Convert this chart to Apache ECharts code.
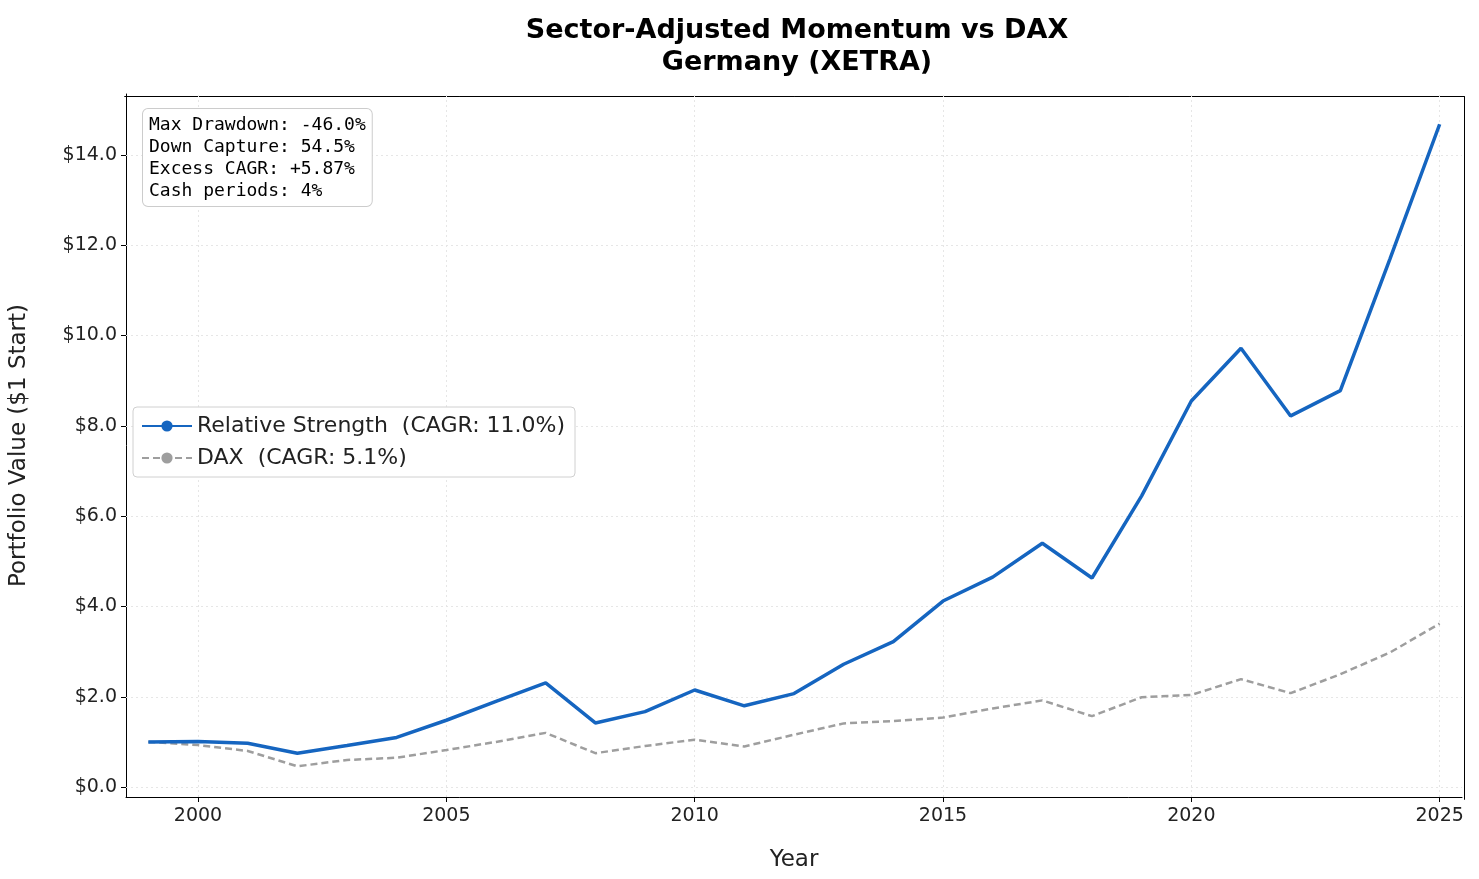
<!DOCTYPE html>
<html>
<head>
<meta charset="utf-8">
<title>Sector-Adjusted Momentum vs DAX</title>
<script src="https://cdn.jsdelivr.net/npm/echarts@6/dist/echarts.min.js"></script>
</head>
<body style="margin:0">
<div id="main" style="width:1479px;height:879px;"></div>
<script>
var years = [1999,2000,2001,2002,2003,2004,2005,2006,2007,2008,2009,2010,2011,2012,2013,2014,2015,2016,2017,2018,2019,2020,2021,2022,2023,2024,2025];
var strategy = [1.0,1.01,0.97,0.75,0.92,1.1,1.48,1.9,2.31,1.42,1.67,2.15,1.8,2.07,2.72,3.22,4.12,4.65,5.4,4.63,6.45,8.55,9.72,8.22,8.78,11.7,14.68];
var dax = [1.0,0.93,0.8,0.46,0.6,0.65,0.82,1.0,1.2,0.75,0.91,1.05,0.9,1.16,1.41,1.46,1.54,1.74,1.92,1.57,1.99,2.04,2.39,2.08,2.5,2.98,3.62];
var xTicks = [2000,2005,2010,2015,2020,2025];
var yTicks = [0,2,4,6,8,10,12,14];
var statsLines = ['Max Drawdown: -46.0%','Down Capture: 54.5%','Excess CAGR: +5.87%','Cash periods: 4%'];

var chart = echarts.init(document.getElementById('main'));
var gridStyle = {color: '#e6e6e6', type: [2, 3], width: 1};
chart.setOption({
  animation: false,
  backgroundColor: '#fff',
  textStyle: {fontFamily: 'DejaVu Sans'},
  title: {
    text: 'Sector-Adjusted Momentum vs DAX\nGermany (XETRA)',
    left: 792, top: 10, textAlign: 'center',
    textStyle: {fontSize: 27, fontWeight: 'bold', color: '#000', lineHeight: 32}
  },
  grid: {left: 122, right: 17, top: 94, bottom: 82},
  legend: {
    orient: 'vertical', left: 133, top: 407,
    backgroundColor: '#fff', borderColor: '#d0d0d0', borderWidth: 1, borderRadius: 4,
    padding: [8, 10, 8, 8], itemGap: 10, itemWidth: 50, itemHeight: 14,
    textStyle: {fontSize: 22, color: '#222'},
    data: ['Relative Strength  (CAGR: 11.0%)', 'DAX  (CAGR: 5.1%)']
  },
  xAxis: {
    type: 'value', min: 1998.55, max: 2025.45,
    name: 'Year', nameLocation: 'middle', nameGap: 52,
    nameTextStyle: {fontSize: 23, color: '#222'},
    axisLine: {onZero: false, lineStyle: {color: '#000'}},
    axisTick: {show: true, customValues: xTicks, length: 5, lineStyle: {color: '#000'}},
    axisLabel: {customValues: xTicks, fontSize: 19, color: '#222', margin: 10,
      formatter: function (v) { return String(v); }},
    splitLine: {show: false}
  },
  yAxis: {
    type: 'value', min: -0.22, max: 15.35,
    name: 'Portfolio Value ($1 Start)', nameLocation: 'middle', nameGap: 95,
    nameTextStyle: {fontSize: 23, color: '#222'},
    axisLine: {show: true, lineStyle: {color: '#000'}},
    axisTick: {show: true, customValues: yTicks, length: 5, lineStyle: {color: '#000'}},
    axisLabel: {customValues: yTicks, fontSize: 19, color: '#222', margin: 9,
      formatter: function (v) { return '$' + v.toFixed(1); }},
    splitLine: {show: false}
  },
  graphic: [
    {type: 'rect', left: 1462, top: 94, shape: {width: 0, height: 703}, style: {stroke: '#000', fill: null}},
    {type: 'rect', left: 122, top: 94, shape: {width: 1340, height: 0}, style: {stroke: '#000', fill: null}},
    {type: 'text', left: 142, top: 108, z: 100,
      style: {text: statsLines.join('\n'), font: '18px "DejaVu Sans Mono"', lineHeight: 22, fill: '#000',
        backgroundColor: '#fff', borderColor: '#ccc', borderWidth: 1, borderRadius: 5, padding: [5, 6, 4, 6]}}
  ],
  series: [
    {
      name: 'Relative Strength  (CAGR: 11.0%)', type: 'line', symbol: 'none', z: 3,
      data: years.map(function (y, i) { return [y, strategy[i]]; }),
      lineStyle: {color: '#1565c0', width: 3.5}, itemStyle: {color: '#1565c0'},
      markLine: {
        silent: true, symbol: 'none', label: {show: false}, lineStyle: gridStyle, z: 1,
        data: xTicks.map(function (v) { return {xAxis: v}; }).concat(yTicks.map(function (v) { return {yAxis: v}; }))
      }
    },
    {
      name: 'DAX  (CAGR: 5.1%)', type: 'line', symbol: 'none', z: 2,
      data: years.map(function (y, i) { return [y, dax[i]]; }),
      lineStyle: {color: '#9e9e9e', width: 2.5, type: [7, 4]}, itemStyle: {color: '#9e9e9e'}
    }
  ]
});
</script>
</body>
</html>
